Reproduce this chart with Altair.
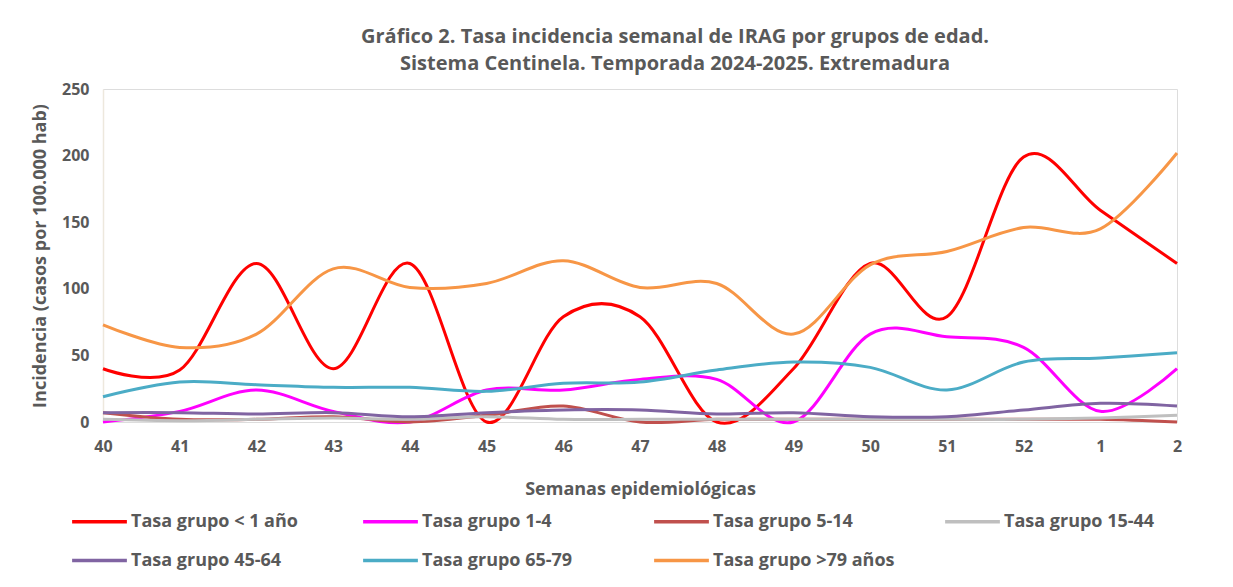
import altair as alt
import pandas as pd

weeks = ["40", "41", "42", "43", "44", "45", "46", "47", "48", "49", "50", "51", "52", "1", "2"]

series_names = [
    "Tasa grupo < 1 año",
    "Tasa grupo 1-4",
    "Tasa grupo 5-14",
    "Tasa grupo 15-44",
    "Tasa grupo 45-64",
    "Tasa grupo 65-79",
    "Tasa grupo >79 años",
]
colors = ["#FF0000", "#FF00FF", "#C0504D", "#BFBFBF", "#8064A2", "#4BACC6", "#F79646"]

g_lt1 = [40, 39, 119, 40, 119, 0, 79, 79, 0, 40, 119, 79, 199, 159, 119]
g_1_4 = [0, 8, 24, 8, 0, 24, 24, 32, 32, 0, 66, 64, 56, 8, 40]
g_5_14 = [7, 2, 2, 4, 0, 5, 12, 0, 2, 2, 2, 2, 2, 2, 0]
g_15_44 = [2, 1, 2, 3, 2, 4, 2, 2, 2, 2, 2, 2, 2, 3, 5]
g_45_64 = [7, 7, 6, 7, 4, 7, 9, 9, 6, 7, 4, 4, 9, 14, 12]
g_65_79 = [19, 30, 28, 26, 26, 23, 29, 30, 39, 45, 41, 24, 45, 48, 52]
g_gt79 = [73, 56, 66, 115, 101, 104, 121, 101, 104, 66, 118, 128, 146, 145, 202]

all_series = [g_lt1, g_1_4, g_5_14, g_15_44, g_45_64, g_65_79, g_gt79]

rows = []
for name, vals in zip(series_names, all_series):
    for i, (w, v) in enumerate(zip(weeks, vals)):
        rows.append({"serie": name, "semana": w, "idx": i, "valor": v})
df = pd.DataFrame(rows)

FONT = "Open Sans"
GREY = "#595959"

chart = (
    alt.Chart(df)
    .mark_line(interpolate="cardinal", strokeWidth=3)
    .encode(
        x=alt.X(
            "semana:N",
            sort=weeks,
            scale=alt.Scale(type="point", padding=0),
            axis=alt.Axis(
                title="Semanas epidemiológicas",
                labelAngle=0,
                labelFont=FONT,
                labelFontSize=16,
                labelFontWeight="bold",
                labelColor=GREY,
                labelPadding=16,
                ticks=False,
                domain=False,
                titleFont=FONT,
                titleFontSize=18,
                titleFontWeight="bold",
                titleColor=GREY,
                titlePadding=26,
            ),
        ),
        y=alt.Y(
            "valor:Q",
            scale=alt.Scale(domain=[0, 250], nice=False),
            axis=alt.Axis(
                title="Incidencia (casos por 100.000 hab)",
                values=[0, 50, 100, 150, 200, 250],
                grid=False,
                ticks=False,
                domainColor="#EDE8DD",
                domainWidth=1.5,
                labelFont=FONT,
                labelFontSize=16,
                labelFontWeight="bold",
                labelColor=GREY,
                labelPadding=14,
                titleFont=FONT,
                titleFontSize=18,
                titleFontWeight="bold",
                titleColor=GREY,
                titlePadding=12,
            ),
        ),
        color=alt.Color(
            "serie:N",
            sort=series_names,
            scale=alt.Scale(domain=series_names, range=colors),
            legend=alt.Legend(
                title=None,
                orient="none",
                legendX=-33,
                legendY=403,
                direction="horizontal",
                columns=4,
                gridAlign="all",
                columnPadding=43,
                rowPadding=0,
                symbolType="stroke",
                symbolStrokeWidth=3.5,
                symbolSize=3000,
                labelFont=FONT,
                labelFontSize=18,
                labelFontWeight="bold",
                labelColor=GREY,
                labelOffset=2,
                labelLimit=400,
            ),
        ),
        detail="serie:N",
        order=alt.Order("idx:Q"),
    )
    .properties(
        width=1074,
        height=333,
        padding={"left": 95, "top": 81, "right": 40, "bottom": 160},
        autosize=alt.AutoSizeParams(type="none"),
        title=alt.TitleParams(
            text=[
                "Gráfico 2. Tasa incidencia semanal de IRAG por grupos de edad.",
                "Sistema Centinela. Temporada 2024-2025. Extremadura",
            ],
            font=FONT,
            fontSize=20,
            fontWeight="bold",
            color=GREY,
            anchor="middle",
            dx=35,
            offset=7,
            lineHeight=27,
        ),
    )
    .configure_view(strokeWidth=0, stroke="transparent")
    .configure(background="white")
)

chart.save("out.html", embed_options={"renderer": "svg", "actions": False})
